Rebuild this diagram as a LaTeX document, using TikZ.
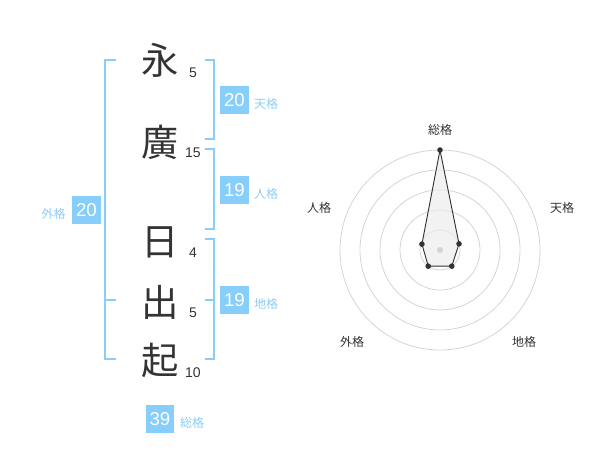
\documentclass[tikz,border=0pt]{standalone}
\usepackage{fontspec}
\setmainfont{Liberation Sans}
\newfontfamily\cjk{Noto Sans CJK JP}
\definecolor{kakuBlue}{RGB}{135,206,250}
\definecolor{kakuText}{RGB}{140,205,245}
\definecolor{inkGray}{RGB}{51,51,51}
\definecolor{ringGray}{RGB}{212,212,212}

\begin{document}
\begin{tikzpicture}[x=0.75pt,y=0.75pt,yscale=-1,xscale=1,
  kanji/.style={inner sep=0pt,text=inkGray,font=\cjk\fontsize{28}{28}\selectfont},
  strokenum/.style={inner sep=0pt,text=inkGray,font=\fontsize{10.5}{10.5}\selectfont},
  kakubox/.style={fill=kakuBlue,text=white,minimum width=21.5pt,minimum height=21.5pt,inner sep=0pt,font=\fontsize{14}{14}\selectfont},
  kakulabel/.style={inner sep=0pt,text=kakuText,font=\cjk\fontsize{9}{9}\selectfont},
  bracket/.style={draw=kakuBlue,line width=1.5pt},
  ring/.style={draw=ringGray,line width=0.6pt},
  radarlabel/.style={inner sep=0pt,text=inkGray,font=\cjk\fontsize{9}{9}\selectfont},
  radarpt/.style={circle,fill=inkGray,inner sep=0pt,minimum size=4.2pt}]
%set diagram at 600 x 470
\path (0,0) rectangle (600,470);
%Name characters and stroke counts
\node [kanji] (c1) at (160,60) {永};
\node [kanji] (c2) at (160,142) {廣};
\node [kanji] (c3) at (160,242) {日};
\node [kanji] (c4) at (160,302) {出};
\node [kanji] (c5) at (160,360) {起};
\node [strokenum] (n1) at (193,73) {5};
\node [strokenum] (n2) at (193,153) {15};
\node [strokenum] (n3) at (193,253) {4};
\node [strokenum] (n4) at (193,313) {5};
\node [strokenum] (n5) at (193,373) {10};
%Shape: outer bracket
\draw [bracket] (116,60) -- (105,60) -- (105,359) -- (116,359) (105,300) -- (116,300);
%Shape: right brackets
\draw [bracket] (205,60) -- (214,60) -- (214,139) -- (205,139);
\draw [bracket] (205,149) -- (214,149) -- (214,229) -- (205,229);
\draw [bracket] (205,239) -- (214,239) -- (214,359) -- (205,359) (214,300) -- (205,300);
%Boxes
\node [kakubox] (tenB) at (234.5,100) {20};
\node [kakulabel] (tenL) at (266,104) {天格};
\node [kakubox] (jinB) at (234.5,190) {19};
\node [kakulabel] (jinL) at (266,194) {人格};
\node [kakubox] (chiB) at (234.5,300) {19};
\node [kakulabel] (chiL) at (266,304) {地格};
\node [kakubox] (gaiB) at (86.5,210) {20};
\node [kakulabel] (gaiL) at (53.5,214) {外格};
\node [kakubox] (soB) at (160,419) {39};
\node [kakulabel] (soL) at (192,423) {総格};
%Shape: radar chart
\begin{scope}[shift={(440,250)}]
\foreach \r in {20,40,60,80,100} \draw [ring] (0,0) circle [radius=\r];
\coordinate (pSo) at (-90:100);
\coordinate (pTen) at (-18:20);
\coordinate (pChi) at (54:20);
\coordinate (pGai) at (126:20);
\coordinate (pJin) at (198:19);
\draw [inkGray,fill=gray!15,fill opacity=0.7,line width=0.7pt,line join=round] (pSo) -- (pTen) -- (pChi) -- (pGai) -- (pJin) -- cycle;
\fill [ringGray] (0,0) circle [radius=3];
\foreach \p in {pSo,pTen,pChi,pGai,pJin} \node [radarpt] at (\p) {};
\node [radarlabel] (rSo) at (0,-120) {総格};
\node [radarlabel] (rTen) at (122,-42) {天格};
\node [radarlabel] (rJin) at (-121,-42) {人格};
\node [radarlabel] (rGai) at (-88,92) {外格};
\node [radarlabel] (rChi) at (84,92) {地格};
\end{scope}
\end{tikzpicture}
\end{document}
